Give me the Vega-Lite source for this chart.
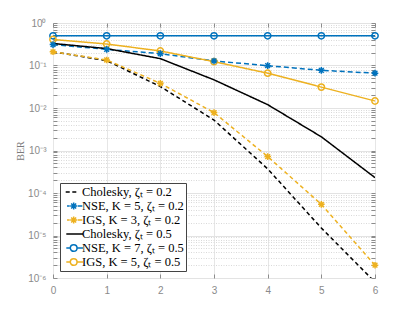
{
  "$schema": "https://vega.github.io/schema/vega-lite/v6.json",
  "autosize": {"type": "none"},
  "padding": {"left": 53, "top": 23, "right": 40, "bottom": 34},
  "width": 322,
  "height": 255,
  "background": "white",
  "config": {
    "view": {"stroke": "#8c8c8c", "strokeWidth": 1},
    "axis": {
      "labelFont": "Liberation Sans",
      "labelFontSize": 10,
      "labelColor": "#8a8a8a",
      "domain": false,
      "tickColor": "#8c8c8c",
      "labelOverlap": false,
      "labelBound": false,
      "labelFlush": false
    }
  },
  "datasets": {
    "ber": [
      {"snr": 0, "ber": 0.21, "s": "Cholesky, ζₜ = 0.2"},
      {"snr": 1, "ber": 0.13, "s": "Cholesky, ζₜ = 0.2"},
      {"snr": 2, "ber": 0.032, "s": "Cholesky, ζₜ = 0.2"},
      {"snr": 3, "ber": 0.0052, "s": "Cholesky, ζₜ = 0.2"},
      {"snr": 4, "ber": 0.00037, "s": "Cholesky, ζₜ = 0.2"},
      {"snr": 5, "ber": 0.000015, "s": "Cholesky, ζₜ = 0.2"},
      {"snr": 6, "ber": 0.0000008, "s": "Cholesky, ζₜ = 0.2"},
      {"snr": 0, "ber": 0.31, "s": "NSE, K = 5, ζₜ = 0.2"},
      {"snr": 1, "ber": 0.24, "s": "NSE, K = 5, ζₜ = 0.2"},
      {"snr": 2, "ber": 0.19, "s": "NSE, K = 5, ζₜ = 0.2"},
      {"snr": 3, "ber": 0.128, "s": "NSE, K = 5, ζₜ = 0.2"},
      {"snr": 4, "ber": 0.099, "s": "NSE, K = 5, ζₜ = 0.2"},
      {"snr": 5, "ber": 0.077, "s": "NSE, K = 5, ζₜ = 0.2"},
      {"snr": 6, "ber": 0.066, "s": "NSE, K = 5, ζₜ = 0.2"},
      {"snr": 0, "ber": 0.21, "s": "IGS, K = 3, ζₜ = 0.2"},
      {"snr": 1, "ber": 0.135, "s": "IGS, K = 3, ζₜ = 0.2"},
      {"snr": 2, "ber": 0.038, "s": "IGS, K = 3, ζₜ = 0.2"},
      {"snr": 3, "ber": 0.0078, "s": "IGS, K = 3, ζₜ = 0.2"},
      {"snr": 4, "ber": 0.00072, "s": "IGS, K = 3, ζₜ = 0.2"},
      {"snr": 5, "ber": 0.000054, "s": "IGS, K = 3, ζₜ = 0.2"},
      {"snr": 6, "ber": 0.000002, "s": "IGS, K = 3, ζₜ = 0.2"},
      {"snr": 0, "ber": 0.33, "s": "Cholesky, ζₜ = 0.5"},
      {"snr": 1, "ber": 0.25, "s": "Cholesky, ζₜ = 0.5"},
      {"snr": 2, "ber": 0.145, "s": "Cholesky, ζₜ = 0.5"},
      {"snr": 3, "ber": 0.046, "s": "Cholesky, ζₜ = 0.5"},
      {"snr": 4, "ber": 0.012, "s": "Cholesky, ζₜ = 0.5"},
      {"snr": 5, "ber": 0.0021, "s": "Cholesky, ζₜ = 0.5"},
      {"snr": 6, "ber": 0.00023, "s": "Cholesky, ζₜ = 0.5"},
      {"snr": 0, "ber": 0.5, "s": "NSE, K = 7, ζₜ = 0.5"},
      {"snr": 1, "ber": 0.5, "s": "NSE, K = 7, ζₜ = 0.5"},
      {"snr": 2, "ber": 0.5, "s": "NSE, K = 7, ζₜ = 0.5"},
      {"snr": 3, "ber": 0.5, "s": "NSE, K = 7, ζₜ = 0.5"},
      {"snr": 4, "ber": 0.5, "s": "NSE, K = 7, ζₜ = 0.5"},
      {"snr": 5, "ber": 0.5, "s": "NSE, K = 7, ζₜ = 0.5"},
      {"snr": 6, "ber": 0.5, "s": "NSE, K = 7, ζₜ = 0.5"},
      {"snr": 0, "ber": 0.41, "s": "IGS, K = 5, ζₜ = 0.5"},
      {"snr": 1, "ber": 0.32, "s": "IGS, K = 5, ζₜ = 0.5"},
      {"snr": 2, "ber": 0.22, "s": "IGS, K = 5, ζₜ = 0.5"},
      {"snr": 3, "ber": 0.123, "s": "IGS, K = 5, ζₜ = 0.5"},
      {"snr": 4, "ber": 0.066, "s": "IGS, K = 5, ζₜ = 0.5"},
      {"snr": 5, "ber": 0.031, "s": "IGS, K = 5, ζₜ = 0.5"},
      {"snr": 6, "ber": 0.0146, "s": "IGS, K = 5, ζₜ = 0.5"}
    ]
  },
  "data": {"name": "ber"},
  "resolve": {"axis": {"x": "independent", "y": "independent"}},
  "layer": [
    {
      "mark": {"type": "line", "strokeWidth": 1.5, "clip": true},
      "encoding": {
        "x": {"field": "snr", "type": "quantitative", "scale": {"domain": [0, 6], "nice": false, "zero": false},
          "axis": {"orient": "bottom", "values": [0, 1, 2, 3, 4, 5, 6], "title": null, "grid": true, "gridColor": "#e6e6e6", "tickSize": -4, "labelPadding": 11}},
        "y": {"field": "ber", "type": "quantitative", "scale": {"type": "log", "domain": [0.000001, 1], "nice": false},
          "axis": {"orient": "left", "title": "BER", "titleFont": "Liberation Serif", "titleFontSize": 10, "titleFontWeight": "normal", "titleColor": "#7a7a7a", "titlePadding": 2,
            "values": [0.000001,0.000002,0.000003,0.000004,0.000005,0.000006,0.000007,0.000008,0.000009,0.00001,0.00002,0.00003,0.00004,0.00005,0.00006,0.00007,0.00008,0.00009,0.0001,0.0002,0.0003,0.0004,0.0005,0.0006,0.0007,0.0008,0.0009,0.001,0.002,0.003,0.004,0.005,0.006,0.007,0.008,0.009,0.01,0.02,0.03,0.04,0.05,0.06,0.07,0.08,0.09,0.1,0.2,0.3,0.4,0.5,0.6,0.7,0.8,0.9,1],
            "labelExpr": "abs(log(datum.value)/LN10 - round(log(datum.value)/LN10)) < 0.01 ? ['10⁰','10⁻¹','10⁻²','10⁻³','10⁻⁴','10⁻⁵','10⁻⁶'][-round(log(datum.value)/LN10)] : ''",
            "grid": true,
            "gridColor": {"condition": {"test": "abs(log(datum.value)/LN10 - round(log(datum.value)/LN10)) < 0.01", "value": "#e3e3e3"}, "value": "#d9d9d9"},
            "gridDash": {"condition": {"test": "abs(log(datum.value)/LN10 - round(log(datum.value)/LN10)) < 0.01", "value": []}, "value": [1, 1.5]},
            "tickSize": -4,
            "labelPadding": 11}},
        "color": {"field": "s", "type": "nominal", "legend": null,
          "scale": {"domain": ["NSE, K = 5, ζₜ = 0.2", "Cholesky, ζₜ = 0.2", "IGS, K = 3, ζₜ = 0.2", "Cholesky, ζₜ = 0.5", "NSE, K = 7, ζₜ = 0.5", "IGS, K = 5, ζₜ = 0.5"],
            "range": ["#0072BD", "#000000", "#EDB120", "#000000", "#0072BD", "#EDB120"]}},
        "strokeDash": {"field": "s", "type": "nominal", "legend": null,
          "scale": {"domain": ["IGS, K = 3, ζₜ = 0.2", "NSE, K = 5, ζₜ = 0.2", "Cholesky, ζₜ = 0.2", "Cholesky, ζₜ = 0.5", "NSE, K = 7, ζₜ = 0.5", "IGS, K = 5, ζₜ = 0.5"],
            "range": [[4, 3], [5, 3], [4, 3], [1, 0], [1, 0], [1, 0]]}}
      }
    },
    {
      "transform": [{"filter": "indexof(datum.s, 'NSE, K = 7') == 0 || indexof(datum.s, 'IGS, K = 5') == 0"}],
      "mark": {"type": "point", "shape": "circle", "filled": false, "size": 40, "strokeWidth": 1.5, "opacity": 1},
      "encoding": {
        "x": {"field": "snr", "type": "quantitative", "scale": {"domain": [0, 6], "nice": false, "zero": false},
          "axis": {"orient": "top", "values": [0, 1, 2, 3, 4, 5, 6], "title": null, "grid": false, "labels": false, "tickSize": -4}},
        "y": {"field": "ber", "type": "quantitative", "scale": {"type": "log", "domain": [0.000001, 1], "nice": false},
          "axis": {"orient": "right", "title": null, "grid": false, "labels": false,
            "values": [0.000001,0.000002,0.000003,0.000004,0.000005,0.000006,0.000007,0.000008,0.000009,0.00001,0.00002,0.00003,0.00004,0.00005,0.00006,0.00007,0.00008,0.00009,0.0001,0.0002,0.0003,0.0004,0.0005,0.0006,0.0007,0.0008,0.0009,0.001,0.002,0.003,0.004,0.005,0.006,0.007,0.008,0.009,0.01,0.02,0.03,0.04,0.05,0.06,0.07,0.08,0.09,0.1,0.2,0.3,0.4,0.5,0.6,0.7,0.8,0.9,1],
            "tickSize": -4}},
        "color": {"field": "s", "type": "nominal", "legend": null}
      }
    },
    {
      "transform": [{"filter": "indexof(datum.s, 'NSE, K = 5') == 0 || indexof(datum.s, 'IGS, K = 3') == 0"}],
      "mark": {"type": "point", "shape": "M-1,0H1M0,-1V1M-0.72,-0.72L0.72,0.72M-0.72,0.72L0.72,-0.72", "filled": false, "size": 44, "strokeWidth": 1.5, "opacity": 1},
      "encoding": {
        "x": {"field": "snr", "type": "quantitative", "axis": null},
        "y": {"field": "ber", "type": "quantitative", "axis": null},
        "color": {"field": "s", "type": "nominal", "legend": null}
      }
    },
    {
      "mark": {"type": "point", "filled": false, "opacity": 0, "strokeWidth": 1.5},
      "encoding": {
        "x": {"field": "snr", "type": "quantitative", "axis": null},
        "y": {"field": "ber", "type": "quantitative", "axis": null},
        "stroke": {"field": "s", "type": "nominal",
          "scale": {"domain": ["Cholesky, ζₜ = 0.2", "NSE, K = 5, ζₜ = 0.2", "IGS, K = 3, ζₜ = 0.2", "Cholesky, ζₜ = 0.5", "NSE, K = 7, ζₜ = 0.5", "IGS, K = 5, ζₜ = 0.5"],
            "range": ["#000000", "#0072BD", "#EDB120", "#000000", "#0072BD", "#EDB120"]},
          "legend": {"title": null, "orient": "bottom-left", "offset": 7, "padding": 2, "strokeColor": "#444444", "fillColor": "white",
            "labelFont": "Liberation Serif", "labelFontSize": 12.5, "labelColor": "black", "symbolSize": 144, "symbolStrokeWidth": 1.5,
            "labelOffset": 6, "rowPadding": -2, "labelLimit": 0}},
        "shape": {"field": "s", "type": "nominal",
          "scale": {"domain": ["Cholesky, ζₜ = 0.2", "NSE, K = 5, ζₜ = 0.2", "IGS, K = 3, ζₜ = 0.2", "Cholesky, ζₜ = 0.5", "NSE, K = 7, ζₜ = 0.5", "IGS, K = 5, ζₜ = 0.5"],
            "range": [
              "M-0.55,0H0.12M0.55,0H1.22",
              "M-0.33,0H0.12M1.45,0H2.22M0.2,0H1.36M0.78,-0.58V0.58M0.37,-0.41L1.19,0.41M0.37,0.41L1.19,-0.41",
              "M-0.33,0H0.12M1.45,0H2.22M0.2,0H1.36M0.78,-0.58V0.58M0.37,-0.41L1.19,0.41M0.37,0.41L1.19,-0.41",
              "M-0.45,0H2.33",
              "M-0.45,0H0.22M1.34,0H2.33M1.34,0A0.56,0.56 0 1 1 0.22,0A0.56,0.56 0 1 1 1.34,0",
              "M-0.45,0H0.22M1.34,0H2.33M1.34,0A0.56,0.56 0 1 1 0.22,0A0.56,0.56 0 1 1 1.34,0"
            ]},
          "legend": {"title": null, "orient": "bottom-left", "offset": 7, "padding": 2, "strokeColor": "#444444", "fillColor": "white",
            "labelFont": "Liberation Serif", "labelFontSize": 12.5, "labelColor": "black", "symbolSize": 144, "symbolStrokeWidth": 1.5,
            "labelOffset": 6, "rowPadding": -2, "labelLimit": 0}}
      }
    }
  ]
}
